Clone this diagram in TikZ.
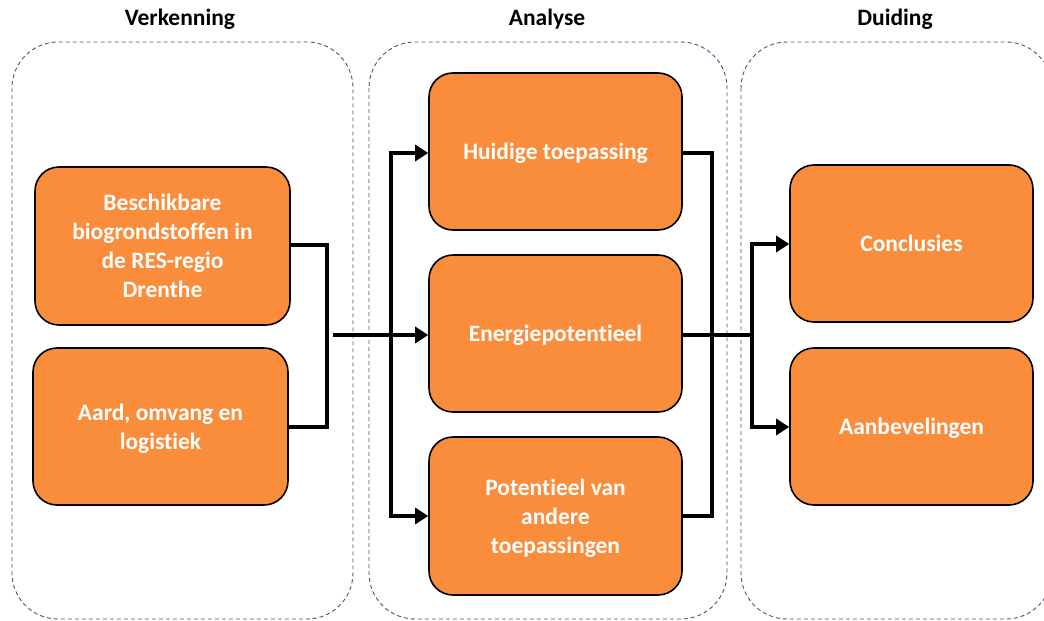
\documentclass[tikz,border=0pt]{standalone}
\usepackage{fontspec}
\setmainfont[Ligatures=NoCommon]{Carlito}
\usetikzlibrary{arrows.meta}
\definecolor{boxorange}{RGB}{249,141,60}
\definecolor{dashblue}{RGB}{75,82,130}
\tikzset{
  box/.style={draw=black, line width=1.6pt, fill=boxorange, rounded corners=24pt,
    text=white, font=\fontsize{23.5}{29}\selectfont\bfseries, align=center, inner sep=0pt,
    text depth=-2pt},
  stage/.style={draw=dashblue, line width=0.9pt, dash pattern=on 4pt off 3pt, rounded corners=46pt},
  title/.style={font=\fontsize{23.5}{28}\selectfont\bfseries, text=black},
  conn/.style={line width=4pt, draw=black},
  arr/.style={line width=4pt, draw=black, -{Triangle[length=13pt,width=16pt]}},
}
\begin{document}
\begin{tikzpicture}[x=1pt,y=-1pt]
\useasboundingbox (0,0) rectangle (1044,621);
% stages
\draw[stage] (12,42) rectangle (353,619);
\draw[stage] (369,42) rectangle (727,619);
\draw[stage] (741,42) rectangle (1052,619);
\node[title] (t1) at (180,19) {Verkenning};
\node[title] (t2) at (547,19) {Analyse};
\node[title] (t3) at (895,19) {Duiding};
% boxes
\node[box, minimum width=255pt, minimum height=158pt] (b1) at (162.5,246) {Beschikbare\\biogrondstoffen in\\de RES-regio\\Drenthe};
\node[box, minimum width=255pt, minimum height=157pt] (b2) at (160.5,426.5) {Aard, omvang en\\logistiek};
\node[box, minimum width=253pt, minimum height=157pt] (h1) at (555.5,151.5) {Huidige toepassing};
\node[box, minimum width=253pt, minimum height=157pt] (h2) at (555.5,333.5) {Energiepotentieel};
\node[box, minimum width=253pt, minimum height=158pt] (h3) at (555.5,516) {Potentieel van\\andere\\toepassingen};
\node[box, minimum width=243pt, minimum height=157pt] (c1) at (911.5,243.5) {Conclusies};
\node[box, minimum width=243pt, minimum height=157pt] (c2) at (911.5,426.5) {Aanbevelingen};
% helper coordinates
\coordinate (lj) at (333,335);
\coordinate (lv1) at (391,153);
\coordinate (lv3) at (391,516);
\coordinate (rj) at (752,335);
\coordinate (rv1) at (752,244);
\coordinate (rv2) at (752,427);
% left bracket
\draw[conn] (b1.east |- 0,245) -- (327,245) -- (327,427) -- (b2.east |- 0,427);
\draw[arr] (lj) -- (h2.west |- lj);
\draw[conn] (lv1) -- (lv3);
\draw[arr] ([xshift=-2pt]lv1) -- (h1.west |- lv1);
\draw[arr] ([xshift=-2pt]lv3) -- (h3.west |- lv3);
% right bracket
\draw[conn] (h1.east |- 0,153) -- (712,153) -- (712,516) -- (h3.east |- 0,516);
\draw[conn] (h2.east |- rj) -- (rj);
\draw[conn] (rv1) -- (rv2);
\draw[arr] ([xshift=-2pt]rv1) -- (c1.west |- rv1);
\draw[arr] ([xshift=-2pt]rv2) -- (c2.west |- rv2);
\end{tikzpicture}
\end{document}
